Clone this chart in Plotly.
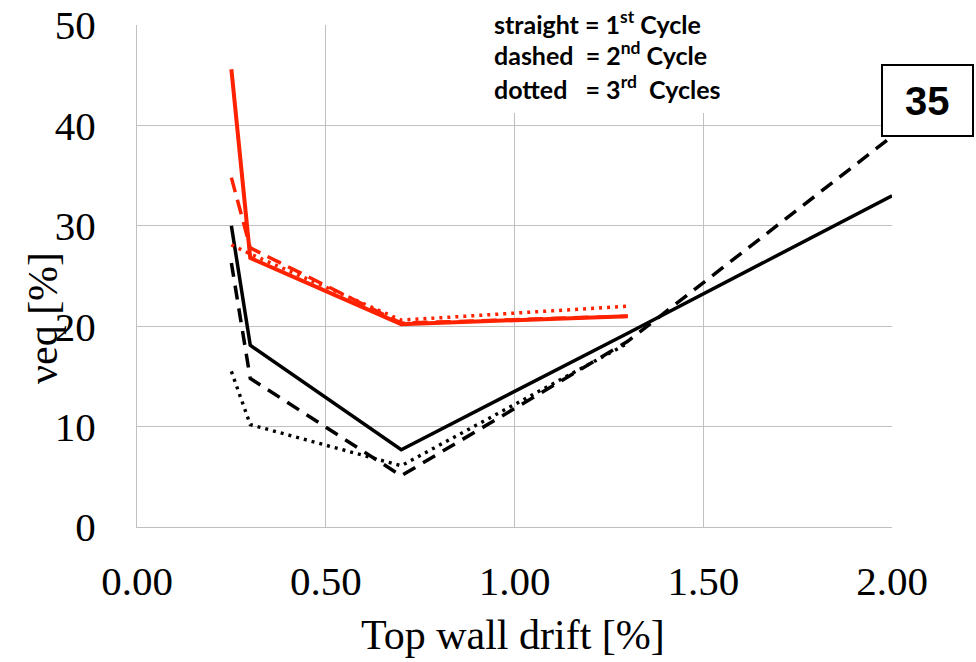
import plotly.graph_objects as go

# Equivalent viscous damping vs top wall drift, three loading cycles
drift_red = [0.25, 0.30, 0.70, 1.30]
red_cycle1 = [45.6, 26.8, 20.2, 21.0]
red_cycle2 = [34.8, 27.8, 20.3, 21.0]
red_cycle3 = [28.1, 27.2, 20.6, 22.0]

drift_black = [0.25, 0.30, 0.70, 1.30, 2.00]
black_cycle1 = [30.0, 18.1, 7.7, 19.3, 33.0]
black_cycle2 = [26.3, 14.8, 5.1, 18.5, 38.9]
drift_black3 = [0.25, 0.30, 0.70, 1.30]
black_cycle3 = [15.5, 10.2, 6.1, 18.3]

x_ticks = [0.0, 0.5, 1.0, 1.5, 2.0]
y_ticks = [0, 10, 20, 30, 40, 50]

RED = "#ff2200"
BLACK = "#000000"
GRID = "#c0c0c0"
SERIF = "Liberation Serif, Times New Roman, serif"

fig = go.Figure()

series = [
    (drift_black, black_cycle1, BLACK, 3.5, "solid"),
    (drift_black, black_cycle2, BLACK, 3.5, "14px,9px"),
    (drift_black3, black_cycle3, BLACK, 3.4, "3px,5px"),
    (drift_red, red_cycle1, RED, 4, "solid"),
    (drift_red, red_cycle2, RED, 3.5, "15px,8px"),
    (drift_red, red_cycle3, RED, 3.5, "3px,5px"),
]
for xs, ys, color, width, dash in series:
    fig.add_trace(go.Scatter(
        x=xs, y=ys, mode="lines",
        line=dict(color=color, width=width, dash=dash),
        showlegend=False, hoverinfo="skip",
    ))

fig.update_xaxes(
    range=[0, 2], tickvals=x_ticks, tickformat=".2f",
    showgrid=True, gridcolor=GRID, gridwidth=1,
    showline=True, linecolor=GRID, linewidth=1,
    zeroline=False, ticks="", ticklabelstandoff=18, automargin=False,
    tickfont=dict(family=SERIF, size=41, color="#000"),
)
fig.update_yaxes(
    range=[0, 50], tickvals=y_ticks,
    showgrid=True, gridcolor=GRID, gridwidth=1,
    showline=True, linecolor=GRID, linewidth=1,
    zeroline=False, ticks="", ticklabelstandoff=32, automargin=False,
    tickfont=dict(family=SERIF, size=41, color="#000"),
)

W, H = 976, 662
L, R, T, B = 137, 84, 25, 135
pw, ph = W - L - R, H - T - B


def px(x):
    return (x - L) / pw


def py(y):
    return (H - B - y) / ph


shapes = [
    # white panel behind the line-style key
    dict(type="rect", xref="paper", yref="paper", layer="above",
         x0=px(473), x1=px(792), y0=py(113), y1=py(0),
         fillcolor="white", line=dict(width=0)),
    # boxed specimen number
    dict(type="rect", xref="paper", yref="paper", layer="above",
         x0=px(882), x1=px(973), y0=py(136), y1=py(65),
         fillcolor="white", line=dict(color="black", width=2)),
]

KEY_FONT = dict(family="Lato, Open Sans, sans-serif", size=25, color="#000")
nb = "\u00a0"
key_lines = [
    (f"<b>straight = 1<sup>st</sup> Cycle</b>", 22),
    (f"<b>dashed{nb}{nb}= 2<sup>nd</sup> Cycle</b>", 54),
    (f"<b>dotted{nb}{nb}{nb}= 3<sup>rd</sup>{nb}{nb}Cycles</b>", 87),
]
annotations = []
for text, y in key_lines:
    annotations.append(dict(
        text=text, xref="paper", yref="paper", x=px(492), y=py(y),
        xanchor="left", yanchor="middle", showarrow=False, font=KEY_FONT,
    ))

annotations += [
    dict(text="<b>35</b>", xref="paper", yref="paper",
         x=px(927.5), y=py(101), xanchor="center", yanchor="middle",
         showarrow=False,
         font=dict(family="Liberation Sans, Arial, sans-serif", size=40, color="#000")),
    dict(text="Top wall drift [%]", xref="paper", yref="paper",
         x=px(513), y=py(635), xanchor="center", yanchor="middle",
         showarrow=False, font=dict(family=SERIF, size=42, color="#000")),
    dict(text="νeq [%]", xref="paper", yref="paper",
         x=px(43), y=py(318), xanchor="center", yanchor="middle",
         textangle=-90, showarrow=False,
         font=dict(family=SERIF, size=42, color="#000")),
]

fig.update_layout(
    width=W, height=H,
    margin=dict(l=L, r=R, t=T, b=B),
    paper_bgcolor="white", plot_bgcolor="white",
    shapes=shapes, annotations=annotations,
)

fig.write_html("out.html")
